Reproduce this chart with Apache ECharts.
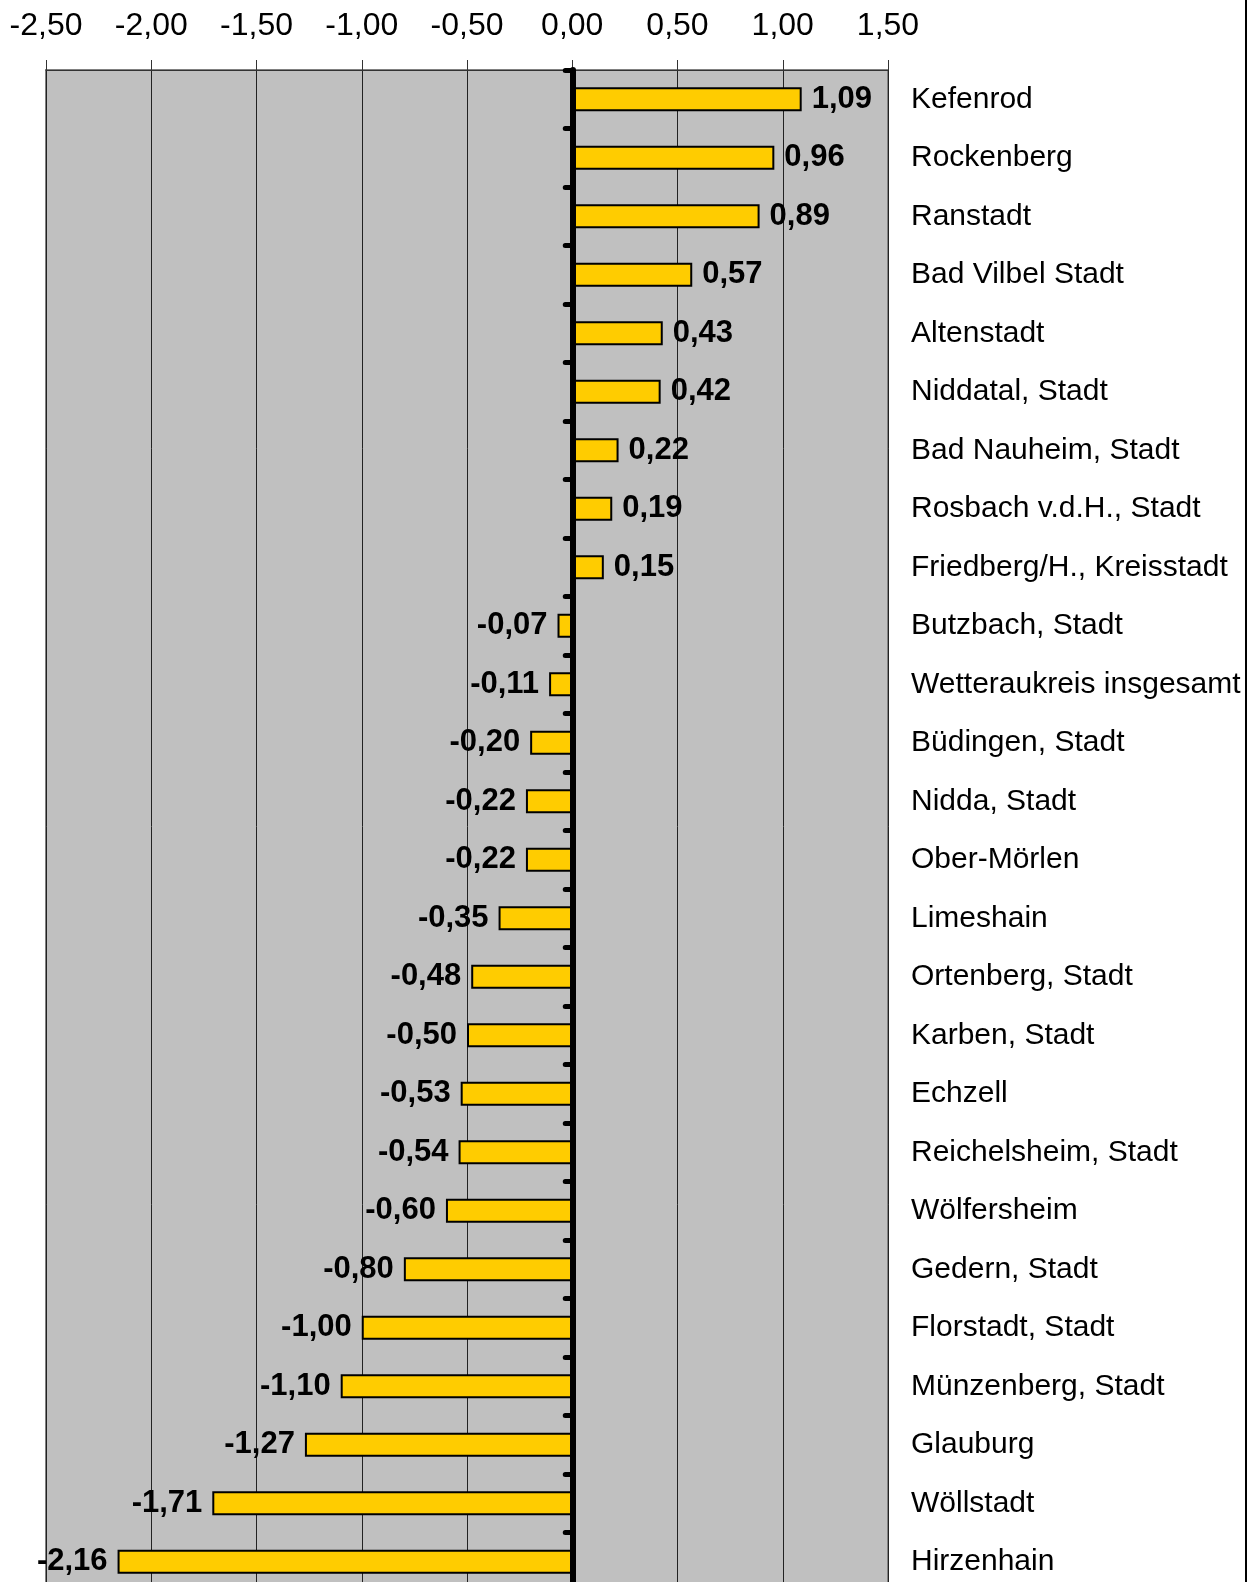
<!DOCTYPE html>
<html>
<head>
<meta charset="utf-8">
<title>Wetteraukreis</title>
<script src="https://cdn.jsdelivr.net/npm/echarts@6/dist/echarts.min.js"></script>
<style>
  html, body { margin: 0; padding: 0; background: #fff; }
  #chart { width: 1257px; height: 1582px; }
</style>
</head>
<body>
<div id="chart"></div>
<script>
// Gemeinden (von oben nach unten)
var gemeinden = ['Kefenrod', 'Rockenberg', 'Ranstadt', 'Bad Vilbel Stadt', 'Altenstadt',
  'Niddatal, Stadt', 'Bad Nauheim, Stadt', 'Rosbach v.d.H., Stadt', 'Friedberg/H., Kreisstadt',
  'Butzbach, Stadt', 'Wetteraukreis insgesamt', 'Büdingen, Stadt', 'Nidda, Stadt', 'Ober-Mörlen',
  'Limeshain', 'Ortenberg, Stadt', 'Karben, Stadt', 'Echzell', 'Reichelsheim, Stadt',
  'Wölfersheim', 'Gedern, Stadt', 'Florstadt, Stadt', 'Münzenberg, Stadt', 'Glauburg',
  'Wöllstadt', 'Hirzenhain'];
// Werte
var werte = [1.09, 0.96, 0.89, 0.57, 0.43, 0.42, 0.22, 0.19, 0.15, -0.07, -0.11, -0.20, -0.22,
  -0.22, -0.35, -0.48, -0.50, -0.53, -0.54, -0.60, -0.80, -1.00, -1.10, -1.27, -1.71, -2.16];
// Achse
var xMin = -2.5;
var xMax = 1.5;
var xStep = 0.5;

var font = 'Liberation Sans, Arial, sans-serif';

function komma(v) {
  return v.toFixed(2).replace('.', ',');
}

var chart = echarts.init(document.getElementById('chart'));

chart.setOption({
  animation: false,
  grid: {
    left: 46,
    top: 70,
    width: 842,
    height: 1521,
    outerBoundsMode: 'none',
    show: true,
    backgroundColor: '#c0c0c0',
    borderColor: '#808080',
    borderWidth: 2
  },
  xAxis: {
    type: 'value',
    position: 'top',
    min: xMin,
    max: xMax,
    interval: xStep,
    axisLine: { show: true, lineStyle: { color: '#333', width: 1 } },
    axisTick: { show: true, length: 10, lineStyle: { color: '#333', width: 1 } },
    axisLabel: {
      margin: 28,
      color: '#000',
      fontSize: 32,
      fontFamily: font,
      formatter: komma
    },
    splitLine: { show: true, lineStyle: { color: '#222', width: 1 } }
  },
  yAxis: [{
    // Beschriftung rechts
    type: 'category',
    data: gemeinden,
    inverse: true,
    position: 'right',
    axisLine: { show: false, onZero: false },
    axisTick: { show: false },
    splitLine: { show: false },
    axisLabel: {
      margin: 23,
      color: '#000',
      fontSize: 30,
      fontFamily: font
    }
  }, {
    // Nulllinie mit Strichen
    type: 'category',
    data: gemeinden,
    inverse: true,
    position: 'left',
    z: 10,
    axisLine: { show: true, onZero: true, lineStyle: { color: '#000', width: 6 } },
    axisTick: { show: true, length: 7, lineStyle: { color: '#000', width: 5, cap: 'round' } },
    axisLabel: { show: false },
    splitLine: { show: false }
  }],
  series: [{
    type: 'bar',
    yAxisIndex: 0,
    barWidth: 24,
    data: werte.map(function (v) {
      return {
        value: v,
        label: { position: v < 0 ? 'left' : 'right' }
      };
    }),
    itemStyle: {
      color: '#ffcc00',
      borderColor: '#000',
      borderWidth: 2
    },
    label: {
      show: true,
      distance: 10,
      color: '#000',
      fontSize: 31,
      fontWeight: 'bold',
      fontFamily: font,
      formatter: function (p) { return komma(p.value); }
    }
  }],
  graphic: [{
    type: 'line',
    shape: { x1: 1246, y1: 0, x2: 1246, y2: 1582 },
    style: { stroke: '#000', lineWidth: 2 }
  }]
});
</script>
</body>
</html>
